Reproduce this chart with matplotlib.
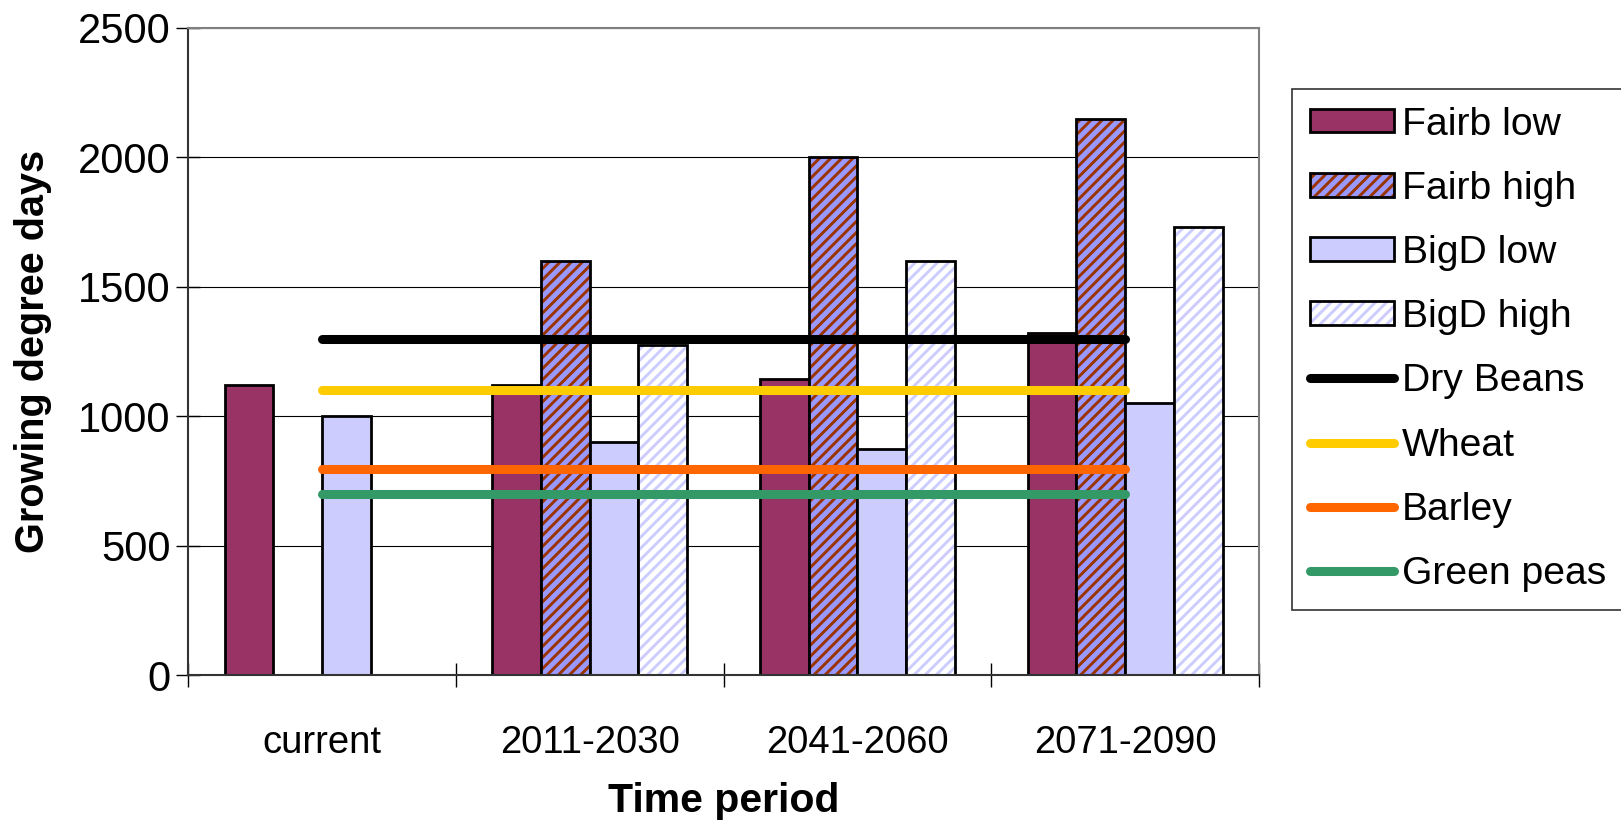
import numpy as np
import matplotlib
matplotlib.use("Agg")
import matplotlib.pyplot as plt
from matplotlib.patches import Patch
from matplotlib.lines import Line2D

plt.rcParams['font.family'] = ['Liberation Sans', 'DejaVu Sans']
plt.rcParams['hatch.linewidth'] = 2.1

# growing degree days per period and scenario
periods = ['current', '2011-2030', '2041-2060', '2071-2090']
fairb_low = [1120, 1120, 1145, 1320]
fairb_high = [np.nan, 1600, 2000, 2150]
bigd_low = [1000, 900, 875, 1050]
bigd_high = [np.nan, 1275, 1600, 1730]

# crop requirements (flat lines)
crops = ['Dry Beans', 'Wheat', 'Barley', 'Green peas']
crop_gdd = [1300, 1100, 795, 700]
crop_colors = ['#000000', '#FFCC00', '#FF6600', '#339966']

x = np.arange(len(periods))
w = 1 / 5.5   # Excel-like 150% gap

fig = plt.figure(figsize=(16.21, 8.23), dpi=100)
ax = fig.add_axes([0.116, 0.1798, 0.6607, 0.7862])

ax.set_axisbelow(True)
ax.yaxis.grid(True, color='black', lw=0.8)

edge = dict(edgecolor='black', linewidth=2)

ax.bar(x - 1.5 * w, fairb_low, w, color='#993366', **edge, zorder=2)
# hatched bars: fill + hatch layer, then black outline on top
ax.bar(x - 0.5 * w, fairb_high, w, facecolor='#9999FF', edgecolor='#993300',
       hatch='///', linewidth=0, zorder=2)
ax.bar(x - 0.5 * w, fairb_high, w, facecolor='none', **edge, zorder=2)
ax.bar(x + 0.5 * w, bigd_low, w, color='#CCCCFF', **edge, zorder=2)
ax.bar(x + 1.5 * w, bigd_high, w, facecolor='white', edgecolor='#CCCCFF',
       hatch='///', linewidth=0, zorder=2)
ax.bar(x + 1.5 * w, bigd_high, w, facecolor='none', **edge, zorder=2)

for val, c in zip(crop_gdd, crop_colors):
    ax.plot(x, [val] * len(x), color=c, lw=6.5, solid_capstyle='round', zorder=3)

ax.set_xlim(-0.5, len(periods) - 0.5)
ax.set_ylim(0, 2500)
ax.set_yticks(np.arange(0, 2501, 500))
ax.set_xticks(x)
ax.set_xticklabels(periods)
ax.set_xticks(np.arange(len(periods) + 1) - 0.5, minor=True)
ax.tick_params(axis='x', which='major', length=0, pad=36, labelsize=27.5)
ax.tick_params(axis='x', which='minor', direction='inout', length=17, width=1)
ax.tick_params(axis='y', direction='inout', length=17, width=1, labelsize=30, pad=4)

for s in ['top', 'right']:
    ax.spines[s].set_color('#808080')
    ax.spines[s].set_linewidth(1.5)
for s in ['left', 'bottom']:
    ax.spines[s].set_color('#333333')
    ax.spines[s].set_linewidth(1.5)

ax.set_xlabel('Time period', fontsize=29.5, fontweight='bold', labelpad=15)
ax.set_ylabel('Growing degree days', fontsize=28.5, fontweight='bold', labelpad=19)

# legend
handles = [
    Patch(facecolor='#993366', edgecolor='black', lw=2),
    (Patch(facecolor='#9999FF', edgecolor='#993300', hatch='///', lw=0),
     Patch(facecolor='none', edgecolor='black', lw=2)),
    Patch(facecolor='#CCCCFF', edgecolor='black', lw=2),
    (Patch(facecolor='white', edgecolor='#CCCCFF', hatch='///', lw=0),
     Patch(facecolor='none', edgecolor='black', lw=2)),
]
handles += [Line2D([0], [0], color=c, lw=6.5, solid_capstyle='round') for c in crop_colors]
labels = ['Fairb low', 'Fairb high', 'BigD low', 'BigD high'] + crops

leg = fig.legend(handles, labels, loc='upper left', bbox_to_anchor=(0.797, 0.892),
                 fontsize=28.2, frameon=True, fancybox=False, handlelength=2.15,
                 handleheight=0.55, handletextpad=0.2, labelspacing=0.72,
                 borderpad=0.45, borderaxespad=0)
leg.get_frame().set_edgecolor('black')
leg.get_frame().set_linewidth(1.2)

fig.savefig('out.png', dpi=100)
